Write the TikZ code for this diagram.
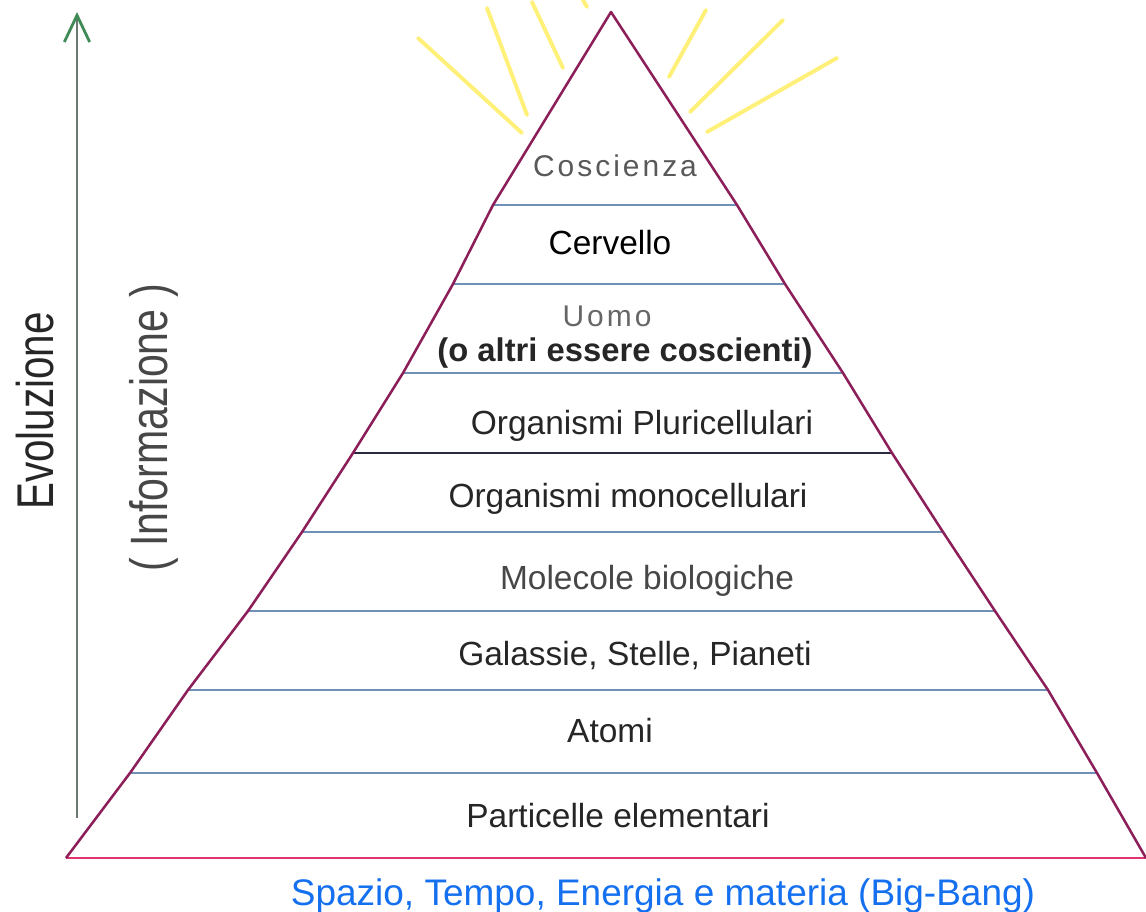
\documentclass[tikz,border=0pt]{standalone}
\usepackage{fontspec}
\setmainfont{Liberation Sans}
\newfontfamily\spacedfont[LetterSpace=10]{Liberation Sans}
\usetikzlibrary{arrows.meta}
\definecolor{pyrmaroon}{HTML}{8C1F5A}
\definecolor{pyrbase}{HTML}{E0356E}
\definecolor{divblue}{HTML}{7090B8}
\definecolor{divdark}{HTML}{2A2A40}
\definecolor{raygold}{HTML}{FFF07A}
\definecolor{evogreen}{HTML}{3F8A55}
\definecolor{evogray}{HTML}{6A7A70}
\definecolor{bangblue}{HTML}{1570F0}

\begin{document}
\begin{tikzpicture}[x=0.025cm, y=-0.025cm,
    layer/.style={anchor=base, inner sep=0pt, font=\fontsize{23.8}{28}\selectfont, text=black!85},
    peak/.style={anchor=base, inner sep=0pt, font=\spacedfont\fontsize{21.3}{25}\selectfont, text=black!65},
    side/.style={anchor=base, inner sep=0pt, rotate=90},
    divider/.style={divblue, line width=1.4pt},
    pyredge/.style={pyrmaroon, line width=1.8pt, line join=round},
    sunray/.style={raygold, line width=2.8pt, line cap=round}
]
    \useasboundingbox (0,0) rectangle (1146,912);

    % Light rays round the top
    \foreach \xa/\ya/\xb/\yb in {418/38/522/133, 487/8/527/115, 532/2/563/68, 583/0/587/7,
                                 706/10/669/77, 783/20/690/112, 837/58/707/132}
        \draw[sunray] (\xa,\ya) -- (\xb,\yb);

    % Pyramid corners and layer ends
    \coordinate (apex) at (611,12);
    \foreach \i/\y/\xl/\xr in {1/205/493/737, 2/284/453/785, 3/373/403/843, 4/453/353/892,
                               5/532/302/943, 6/611/248/995, 7/690/188/1048, 8/773/130/1097, 9/858/66/1146} {
        \coordinate (L\i) at (\xl,\y);
        \coordinate (R\i) at (\xr,\y);
    }

    % Layer lines
    \foreach \i in {1,2,3,5,6,7,8}
        \draw[divider] (L\i) -- (R\i);
    \draw[divider, divdark] (L4) -- (R4);

    % Pyramid outline
    \draw[pyrbase, line width=2pt] (L9) -- (R9);
    \draw[pyredge] (L9) -- (L8) -- (L7) -- (L6) -- (L5) -- (L4) -- (L3) -- (L2) -- (L1) -- (apex)
        -- (R1) -- (R2) -- (R3) -- (R4) -- (R5) -- (R6) -- (R7) -- (R8) -- (R9);

    % Layer labels
    \node[peak] (coscienza) at (615,177) {Coscienza};
    \node[layer, text=black] (cervello) at (610,255) {Cervello};
    \node[peak, text=black!60] (uomo) at (607,327) {Uomo};
    \node[layer, font=\bfseries\fontsize{23.3}{28}\selectfont] (altri) at (625,362) {(o altri essere coscienti)};
    \node[layer] (pluri) at (642,435) {Organismi Pluricellulari};
    \node[layer] (mono) at (628,507) {Organismi monocellulari};
    \node[layer, text=black!72] (molecole) at (647,589) {Molecole biologiche};
    \node[layer] (galassie) at (635,665) {Galassie, Stelle, Pianeti};
    \node[layer] (atomi) at (610,742) {Atomi};
    \node[layer] (particelle) at (618,827) {Particelle elementari};

    % Base caption
    \node[anchor=base, inner sep=0pt, text=bangblue, font=\fontsize{26.3}{30}\selectfont] (bigbang) at (663,905)
        {Spazio, Tempo, Energia e materia (Big-Bang)};

    % Evolution axis
    \coordinate (evobase) at (77,818);
    \coordinate (evotip) at (77,12);
    \draw[evogray, line width=1.4pt, -{Straight Barb[length=19pt, width=18pt, color=evogreen, line width=2pt]}] (evobase) -- (evotip);
    \node[side, text=black!85] (evoluzione) at (53,411) {\fontsize{28.7}{30}\selectfont\scalebox{1}[1.28]{Evoluzione}};
    \node[side, text=black!72] (informazione) at (167,428) {\fontsize{29.2}{30}\selectfont\scalebox{1}[1.28]{( Informazione )}};

\end{tikzpicture}
\end{document}
